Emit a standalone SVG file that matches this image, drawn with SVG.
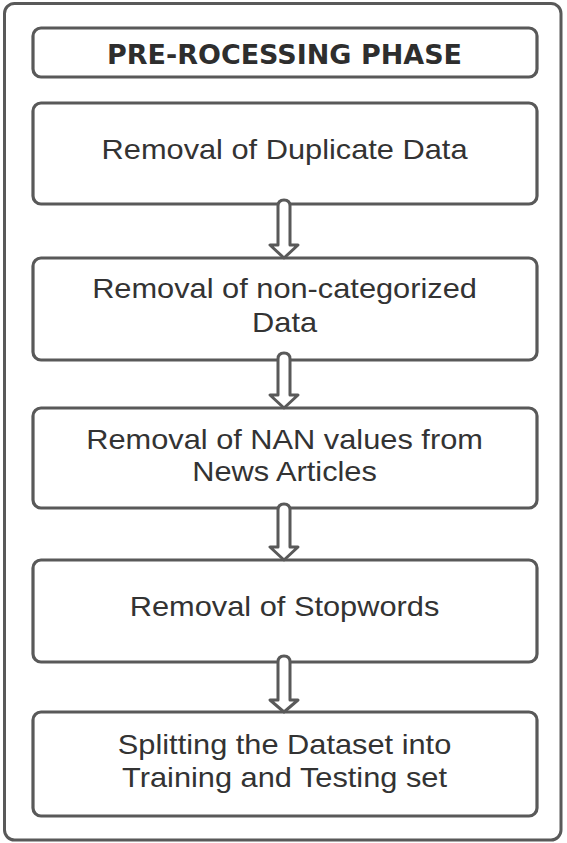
<svg xmlns="http://www.w3.org/2000/svg" width="567" height="843" viewBox="0 0 567 843">
<style>
.frame{fill:#fff;stroke:#595959;stroke-width:3}
.box{fill:#fff;stroke:#595959;stroke-width:3.2}
.arr{fill:#fff;stroke:#595959;stroke-width:3;stroke-linejoin:round}
.t{font-family:"Liberation Sans",Arial,sans-serif;font-size:27px;fill:#333;text-anchor:middle}
.h{font-family:"DejaVu Sans",sans-serif;font-weight:bold;font-size:27px;fill:#2e2e2e;text-anchor:middle}
</style>
<rect width="567" height="843" fill="#fff"/>
<rect id="frame" class="frame" x="4.5" y="3.5" width="556.5" height="836.5" rx="10"/>
<g id="header">
<rect class="box" x="33" y="28" width="504" height="49" rx="8"/>
<text class="h" x="284.5" y="64" textLength="355" lengthAdjust="spacingAndGlyphs">PRE-ROCESSING PHASE</text>
</g>
<g id="n1">
<rect class="box" x="33" y="103" width="504" height="101" rx="8"/>
<text class="t" x="249.6" y="159.3" transform="scale(1.14 1)">Removal of Duplicate Data</text>
</g>
<g id="n2">
<rect class="box" x="33" y="258" width="504" height="102" rx="8"/>
<text class="t" x="249.6" y="298.3" transform="scale(1.14 1)">Removal of non-categorized</text>
<text class="t" x="249.6" y="331.7" transform="scale(1.14 1)">Data</text>
</g>
<g id="n3">
<rect class="box" x="33" y="408" width="504" height="100" rx="8"/>
<text class="t" x="249.6" y="449" transform="scale(1.14 1)">Removal of NAN values from</text>
<text class="t" x="249.6" y="481" transform="scale(1.14 1)">News Articles</text>
</g>
<g id="n4">
<rect class="box" x="33" y="560" width="504" height="102" rx="8"/>
<text class="t" x="249.6" y="616" transform="scale(1.14 1)">Removal of Stopwords</text>
</g>
<g id="n5">
<rect class="box" x="33" y="712" width="504" height="104" rx="8"/>
<text class="t" x="249.6" y="754" transform="scale(1.14 1)">Splitting the Dataset into</text>
<text class="t" x="249.6" y="787" transform="scale(1.14 1)">Training and Testing set</text>
</g>
<g id="connectors">
<path class="arr" d="M278,245 L278,206 Q278,200 284,200 Q290,200 290,206 L290,245 L298,245 L284,258 L270,245 Z"/>
<path class="arr" d="M278,395 L278,359 Q278,353 284,353 Q290,353 290,359 L290,395 L298,395 L284,408 L270,395 Z"/>
<path class="arr" d="M278,547 L278,510 Q278,504 284,504 Q290,504 290,510 L290,547 L298,547 L284,560 L270,547 Z"/>
<path class="arr" d="M278,700 L278,662 Q278,656 284,656 Q290,656 290,662 L290,700 L298,700 L284,712 L270,700 Z"/>
</g>
</svg>
